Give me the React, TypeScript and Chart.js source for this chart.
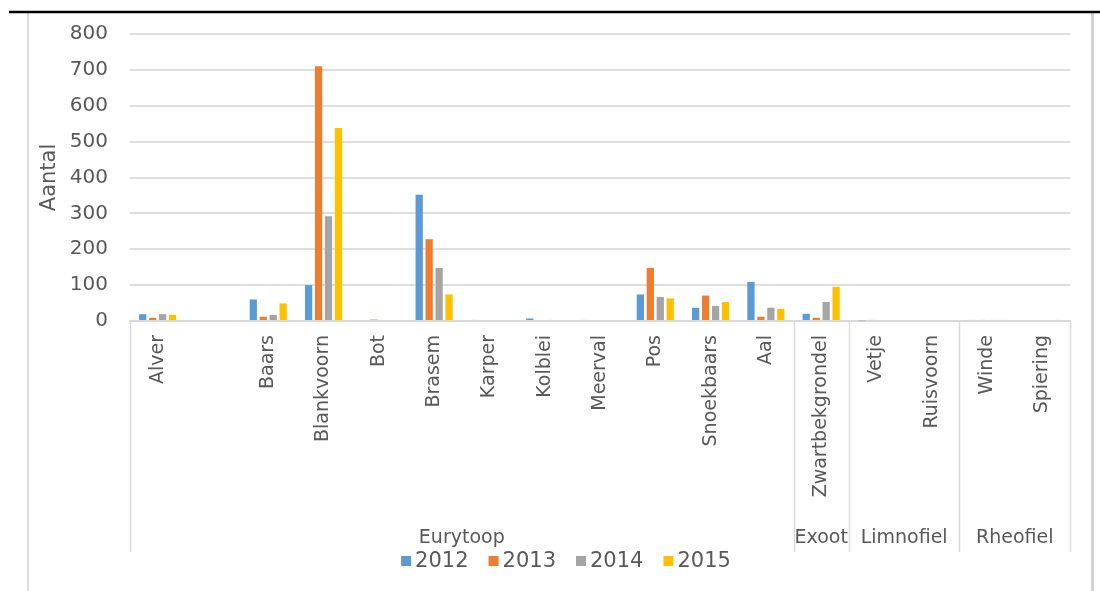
import { useEffect, useRef } from "react";
import { Chart, registerables } from "chart.js";

Chart.register(...registerables);

const categories = [
  "Alver", "", "Baars", "Blankvoorn", "Bot", "Brasem", "Karper", "Kolblei", "Meerval",
  "Pos", "Snoekbaars", "Aal", "Zwartbekgrondel", "Vetje", "Ruisvoorn", "Winde", "Spiering",
];
const years = ["2012", "2013", "2014", "2015"];
const values2012 = [19, 0, 60, 100, 0, 352, 3, 7, 3, 74, 37, 109, 20, 2, 0, 3, 0];
const values2013 = [9, 0, 12, 710, 4, 228, 0, 0, 0, 148, 71, 12, 9, 3, 0, 3, 0];
const values2014 = [19, 0, 17, 292, 0, 148, 0, 3, 0, 67, 42, 37, 53, 0, 0, 3, 0];
const values2015 = [17, 0, 49, 538, 0, 74, 0, 0, 0, 63, 53, 34, 95, 0, 0, 3, 3];
const seriesColors = ["#5B9BD5", "#ED7D31", "#A5A5A5", "#FFC000"];
const groupNames = ["Eurytoop", "Exoot", "Limnofiel", "Rheofiel"];
const groupSizes = [12, 1, 2, 2];
const yMax = 800;
const yStep = 100;
const yTitle = "Aantal";

const FONT = "'DejaVu Sans', sans-serif";
const TEXT = "#595959";
const LINE = "#d9d9d9";

const decorPlugin = {
  id: "decor",
  beforeDraw(chart: any) {
    const ctx = chart.ctx;
    ctx.save();
    ctx.fillStyle = "#ffffff";
    ctx.fillRect(0, 0, chart.width, chart.height);
    // frame
    ctx.strokeStyle = "#dedede";
    ctx.lineWidth = 2;
    ctx.beginPath();
    ctx.moveTo(28, 13);
    ctx.lineTo(28, chart.height);
    ctx.stroke();
    ctx.strokeStyle = "#d2d2d2";
    ctx.lineWidth = 3;
    ctx.beginPath();
    ctx.moveTo(1092.5, 13);
    ctx.lineTo(1092.5, chart.height);
    ctx.stroke();
    ctx.strokeStyle = "#000000";
    ctx.lineWidth = 2.5;
    ctx.beginPath();
    ctx.moveTo(9, 12);
    ctx.lineTo(chart.width, 12);
    ctx.stroke();
    ctx.restore();
  },
  afterDraw(chart: any) {
    const ctx = chart.ctx;
    const x = chart.scales.x;
    const area = chart.chartArea;
    const half = (x.getPixelForValue(1) - x.getPixelForValue(0)) / 2;
    const sepBottom = 552;
    ctx.save();
    ctx.strokeStyle = LINE;
    ctx.lineWidth = 1.5;
    let idx = 0;
    const bounds: number[] = [x.getPixelForValue(0) - half];
    groupSizes.forEach((n) => {
      idx += n;
      bounds.push(x.getPixelForValue(idx - 1) + half);
    });
    bounds.forEach((bx) => {
      ctx.beginPath();
      ctx.moveTo(Math.round(bx) + 0.5, area.bottom);
      ctx.lineTo(Math.round(bx) + 0.5, sepBottom);
      ctx.stroke();
    });
    // group labels
    ctx.fillStyle = TEXT;
    ctx.font = `19px ${FONT}`;
    ctx.textAlign = "center";
    ctx.textBaseline = "middle";
    groupNames.forEach((g, i) => {
      ctx.fillText(g, (bounds[i] + bounds[i + 1]) / 2, 538);
    });
    // legend
    ctx.font = `21px ${FONT}`;
    ctx.textAlign = "left";
    const box = 10;
    const gap = 4;
    const itemGap = 20;
    const widths = chart.data.datasets.map((d: any) => ctx.measureText(d.label).width);
    const total = widths.reduce((a: number, w: number) => a + box + gap + w, 0) + itemGap * (widths.length - 1);
    let lx = 566 - total / 2;
    const ly = 561;
    chart.data.datasets.forEach((d: any, i: number) => {
      ctx.fillStyle = d.backgroundColor;
      ctx.fillRect(lx, ly - box / 2, box, box);
      ctx.fillStyle = TEXT;
      ctx.fillText(d.label, lx + box + gap, ly + 1);
      lx += box + gap + widths[i] + itemGap;
    });
    ctx.restore();
  },
};

export default function App() {
  const ref = useRef<HTMLCanvasElement>(null);
  useEffect(() => {
    if (!ref.current) return;
    const seriesValues = [values2012, values2013, values2014, values2015];
    const chart = new Chart(ref.current, {
      type: "bar",
      data: {
        labels: categories,
        datasets: years.map((y, i) => ({
          label: y,
          data: seriesValues[i],
          backgroundColor: seriesColors[i],
          borderWidth: 0,
          barPercentage: 0.73,
          categoryPercentage: 0.72,
        })),
      },
      options: {
        animation: false,
        responsive: false,
        maintainAspectRatio: false,
        layout: { padding: { left: 30, right: 30, top: 33, bottom: 0 } },
        plugins: { legend: { display: false }, tooltip: { enabled: false } },
        scales: {
          x: {
            grid: { display: false, drawTicks: false },
            border: { display: true, color: LINE, width: 2 },
            ticks: {
              minRotation: 90,
              maxRotation: 90,
              autoSkip: false,
              padding: 14,
              color: TEXT,
              font: { family: FONT, size: 19 },
            },
            afterFit: (s: any) => {
              s.height = 270;
            },
          },
          y: {
            min: 0,
            max: yMax,
            ticks: { stepSize: yStep, padding: 22, color: TEXT, font: { family: FONT, size: 20 } },
            grid: { color: "#dedede", lineWidth: 2, drawTicks: false },
            border: { display: false },
            title: {
              display: true,
              text: yTitle,
              color: TEXT,
              font: { family: FONT, size: 21 },
              padding: { top: 7, bottom: 0 },
            },
            afterFit: (s: any) => {
              s.width = 100;
            },
          },
        },
      },
      plugins: [decorPlugin],
    });
    return () => chart.destroy();
  }, []);
  return (
    <div style={{ position: "fixed", left: 0, top: 0, width: 1100, height: 591 }}>
      <canvas ref={ref} width={1100} height={591} />
    </div>
  );
}
